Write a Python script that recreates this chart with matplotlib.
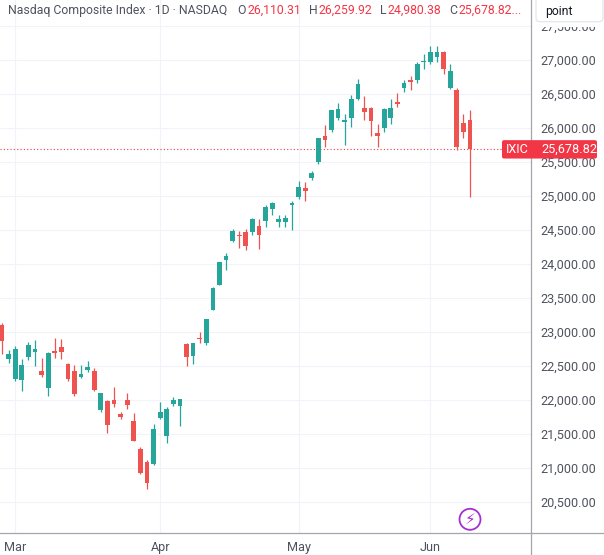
import matplotlib
matplotlib.use("Agg")
import matplotlib.pyplot as plt
from matplotlib.patches import FancyBboxPatch, Circle, Rectangle
from matplotlib.lines import Line2D
from matplotlib.transforms import IdentityTransform
import numpy as np

# ---------------- data (daily OHLC, Nasdaq Composite) ----------------
opens = [23096, 22594, 22300, 22285, 22620, 22693, 22422, 22162, 22717, 22767,
         22521, 22422, 22329, 22432, 22418, 21853, 21979, 21990, 21793, 22000,
         21685, 21277, 21080, 21046, 21729, 21463, 21931, 21906, 22811, 22639,
         22909, 22835, 23317, 23686, 24055, 24325, 24413, 24463, 24458, 24556,
         24620, 24803, 24611, 24611, 24866, 24974, 25107, 25260, 25490, 25879,
         25958, 26135, 26086, 26145, 26425, 26292, 26292, 25923, 25997, 26145,
         26381, 26587, 26700, 26695, 26965, 26956, 27039, 27104, 26577, 26548,
         26061, 26110.31]
highs = [23130, 22727, 22786, 22590, 22850, 22875, 22605, 22702, 22900, 22885,
         22540, 22506, 22506, 22565, 22457, 22098, 21990, 22177, 21817, 22089,
         21808, 21301, 21115, 21636, 21965, 21891, 22030, 22005, 22831, 22831,
         22997, 23180, 23650, 24020, 24153, 24507, 24472, 24512, 24670, 24655,
         24866, 24900, 24718, 24718, 24915, 25220, 25200, 25357, 25850, 26036,
         26253, 26366, 26194, 26479, 26710, 26463, 26307, 26056, 26292, 26415,
         26514, 26695, 26759, 26956, 27078, 27201, 27192, 27127, 26936, 26577,
         26194, 26259.92]
lows = [22668, 22535, 22270, 22127, 22580, 22496, 22325, 22049, 22605, 22590,
        22273, 22053, 22310, 22407, 22127, 21817, 21513, 21891, 21710, 21857,
        21389, 20900, 20677, 21040, 21720, 21366, 21901, 21606, 22496, 22521,
        22826, 22801, 23310, 23680, 23907, 24310, 24227, 24202, 24424, 24213,
        24537, 24718, 24537, 24537, 24497, 24950, 24915, 25225, 25470, 25712,
        25928, 26110, 25736, 26012, 26400, 26105, 25874, 25706, 25928, 26056,
        26302, 26528, 26553, 26661, 26867, 26941, 26966, 26783, 26562, 25667,
        25844, 24980.38]
closes = [22864, 22664, 22738, 22506, 22801, 22742, 22363, 22678, 22678, 22702,
          22295, 22078, 22369, 22481, 22137, 22089, 21631, 21931, 21744, 21916,
          21389, 20923, 20776, 21572, 21817, 21867, 21990, 22005, 22620, 22826,
          22890, 23180, 23637, 24015, 24104, 24472, 24398, 24251, 24655, 24424,
          24832, 24891, 24655, 24665, 24891, 25121, 25062, 25333, 25850, 25814,
          26253, 26277, 26105, 26415, 26646, 26227, 26095, 25874, 26277, 26292,
          26351, 26661, 26670, 26931, 26980, 27104, 27104, 26857, 26832, 25711,
          25932, 25678.82]
month_labels = ["Mar", "Apr", "May", "Jun"]
month_index = [2, 24, 45, 65]          # candle index where each month starts
y_ticks = [20500, 21000, 21500, 22000, 22500, 23000, 23500, 24000,
           24500, 25000, 25500, 26000, 26500, 27000, 27500]
symbol = "IXIC"
title = "Nasdaq Composite Index \u00b7 1D \u00b7 NASDAQ"

# ---------------- style ----------------
UP = "#26a69a"
DOWN = "#ef5350"
RED_TXT = "#f23645"
GRAY_TXT = "#50535e"
GRID = "#f0f3fa"
AXLINE = "#a3a6af"
FONT = ["Roboto", "DejaVu Sans"]

W, H, DPI = 604, 555, 100
fig = plt.figure(figsize=(W / DPI, H / DPI), dpi=DPI)
fig.patch.set_facecolor("white")
renderer = fig.canvas.get_renderer()


def fit_size(text, target_px, family=FONT):
    t = fig.text(0, 0, text, fontsize=10, family=family)
    w = t.get_window_extent(renderer).width
    t.remove()
    return 10 * target_px / w


def py(p):  # pixel from top -> display y
    return H - p


ax = fig.add_axes([0, (H - 533) / H, 531 / W, 533 / H])
ax.set_facecolor("white")

o = np.array(opens); h = np.array(highs); l = np.array(lows); c = np.array(closes)
x = np.arange(len(o))
col = np.where(c >= o, UP, DOWN)
bottom = np.minimum(o, c)
height = np.abs(c - o)
minh = 14
bottom = np.where(height < minh, (o + c) / 2 - minh / 2, bottom)
height = np.maximum(height, minh)

ax.vlines(x, l, h, colors=col, lw=0.9, zorder=3)
ax.bar(x, height, bottom=bottom, width=0.72, color=col, lw=0, zorder=4)

ax.set_xlim(-0.303, 80.27)
ax.set_ylim(20037, 27875)

lab_size = fit_size("27,000.00", 55)
ax.set_yticks(y_ticks)
ax.set_yticklabels([f"{v:,.2f}" for v in y_ticks])
ax.yaxis.tick_right()
ax.set_xticks(month_index)
ax.set_xticklabels(month_labels)
ax.tick_params(length=0, colors=GRAY_TXT, labelsize=lab_size)
for t in ax.get_xticklabels() + ax.get_yticklabels():
    t.set_family(FONT)
ax.tick_params(axis="y", pad=7)
ax.tick_params(axis="x", pad=6)
ax.grid(True, color=GRID, lw=0.8, zorder=0)
ax.set_axisbelow(True)
for s in ax.spines.values():
    s.set_visible(False)

# last price dotted line
ax.axhline(closes[-1], color=RED_TXT, lw=0.8, ls=(0, (1, 2)), zorder=2)

# axis frame lines
fig.add_artist(Line2D([0, 1], [(H - 533) / H] * 2, color=AXLINE, lw=0.9,
                      transform=fig.transFigure))
fig.add_artist(Line2D([531 / W] * 2, [0, 1], color=AXLINE, lw=0.9,
                      transform=fig.transFigure))

# ---------- title ----------
tsize = fit_size(title, 218.5)
ty = py(10.5)
prev_artist = fig.text(8.5, ty, title, transform=IdentityTransform(),
                       fontsize=tsize, family=FONT, color=GRAY_TXT,
                       va="center", ha="left")
pieces = [("O", 10, GRAY_TXT), (f"{opens[-1]:,.2f}", 1, RED_TXT),
          ("H", 8, GRAY_TXT), (f"{highs[-1]:,.2f}", 1, RED_TXT),
          ("L", 8, GRAY_TXT), (f"{lows[-1]:,.2f}", 1, RED_TXT),
          ("C", 8, GRAY_TXT), (f"{closes[-1]:,.2f}...", 1, RED_TXT)]
for txt, gap, cc in pieces:
    prev_artist = ax.annotate(txt, xy=(1, 0.5), xycoords=prev_artist,
                              xytext=(gap * 0.72, 0), textcoords="offset points",
                              fontsize=tsize, family=FONT, color=cc,
                              va="center", ha="left", annotation_clip=False)

# ---------- "point" box ----------
fig.add_artist(Rectangle((537, py(27)), 66, 6, transform=IdentityTransform(),
                         facecolor="white", edgecolor="none", zorder=9))
pb = FancyBboxPatch((536, py(21.7)), 67, 30, boxstyle="round,pad=0,rounding_size=4",
                    transform=IdentityTransform(), facecolor="white",
                    edgecolor="#e0e3eb", lw=0.8, zorder=10)
fig.add_artist(pb)
fig.text(545, py(11), "point", transform=IdentityTransform(), fontsize=tsize,
         family=FONT, color="#131722", va="center", ha="left", zorder=11)

# ---------- last price label ----------
yc = ax.transData.transform((0, closes[-1]))[1]
lb = FancyBboxPatch((502, yc - 9.2), 95, 18.4, boxstyle="round,pad=0,rounding_size=2",
                    transform=IdentityTransform(), facecolor=RED_TXT,
                    edgecolor="none", zorder=10)
fig.add_artist(lb)
fig.text(506, yc, symbol, transform=IdentityTransform(), fontsize=lab_size,
         family=FONT, color="white", va="center", ha="left", zorder=11)
fig.text(541, yc, f"{closes[-1]:,.2f}", transform=IdentityTransform(),
         fontsize=lab_size, family=FONT, color="white", va="center", ha="left",
         zorder=11)

# ---------- lightning icon ----------
circ = Circle((470, py(519.3)), 10.5, transform=IdentityTransform(),
              facecolor="white", edgecolor="#a62fd1", lw=1.3, zorder=10)
fig.add_artist(circ)
fig.text(470, py(519.3), "\u26a1", transform=IdentityTransform(), fontsize=11,
         family=["DejaVu Sans"], color="#a62fd1", va="center", ha="center",
         zorder=11)

fig.savefig("out.png", dpi=DPI, facecolor="white")
